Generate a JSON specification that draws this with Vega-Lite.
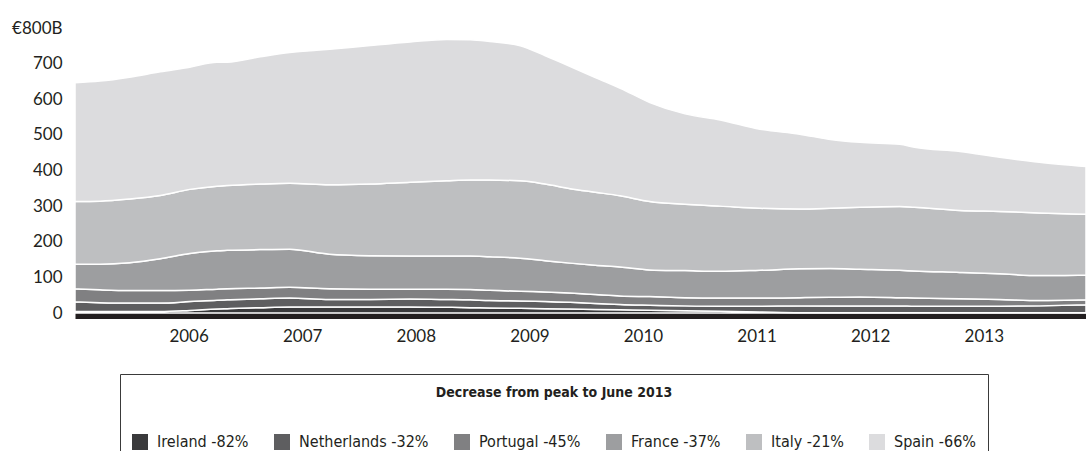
{
  "$schema": "https://vega.github.io/schema/vega-lite/v6.json",
  "width": 1011,
  "height": 285,
  "autosize": {"type": "none"},
  "padding": {"left": 75, "top": 28, "right": 0, "bottom": 138},
  "background": "white",
  "datasets": {
    "countries": [
      {"country": "Ireland", "rank": 1, "label": "Ireland -82%"},
      {"country": "Netherlands", "rank": 2, "label": "Netherlands -32%"},
      {"country": "Portugal", "rank": 3, "label": "Portugal -45%"},
      {"country": "France", "rank": 4, "label": "France -37%"},
      {"country": "Italy", "rank": 5, "label": "Italy -21%"},
      {"country": "Spain", "rank": 6, "label": "Spain -66%"}
    ]
  },
  "data": {
    "values": [
      {"t": 2005.00, "Ireland": 4, "Netherlands": 27, "Portugal": 37, "France": 69, "Italy": 176, "Spain": 333},
      {"t": 2005.22, "Ireland": 4, "Netherlands": 25, "Portugal": 36, "France": 72, "Italy": 177, "Spain": 337},
      {"t": 2005.48, "Ireland": 4, "Netherlands": 24, "Portugal": 35, "France": 78, "Italy": 179, "Spain": 342},
      {"t": 2005.75, "Ireland": 4, "Netherlands": 24, "Portugal": 35, "France": 89, "Italy": 178, "Spain": 347},
      {"t": 2006.01, "Ireland": 7, "Netherlands": 25, "Portugal": 32, "France": 103, "Italy": 180, "Spain": 343},
      {"t": 2006.25, "Ireland": 11, "Netherlands": 25, "Portugal": 31, "France": 108, "Italy": 181, "Spain": 348},
      {"t": 2006.34, "Ireland": 12, "Netherlands": 25, "Portugal": 31, "France": 108, "Italy": 182, "Spain": 346},
      {"t": 2006.63, "Ireland": 15, "Netherlands": 25, "Portugal": 30, "France": 108, "Italy": 184, "Spain": 357},
      {"t": 2006.89, "Ireland": 17, "Netherlands": 25, "Portugal": 30, "France": 107, "Italy": 185, "Spain": 367},
      {"t": 2007.24, "Ireland": 17, "Netherlands": 21, "Portugal": 30, "France": 97, "Italy": 195, "Spain": 380},
      {"t": 2007.60, "Ireland": 17, "Netherlands": 21, "Portugal": 29, "France": 94, "Italy": 201, "Spain": 389},
      {"t": 2007.95, "Ireland": 17, "Netherlands": 22, "Portugal": 28, "France": 93, "Italy": 207, "Spain": 394},
      {"t": 2008.27, "Ireland": 16, "Netherlands": 22, "Portugal": 29, "France": 93, "Italy": 211, "Spain": 397},
      {"t": 2008.48, "Ireland": 15, "Netherlands": 22, "Portugal": 29, "France": 94, "Italy": 213, "Spain": 394},
      {"t": 2008.65, "Ireland": 14, "Netherlands": 21, "Portugal": 29, "France": 94, "Italy": 215, "Spain": 389},
      {"t": 2008.92, "Ireland": 13, "Netherlands": 21, "Portugal": 27, "France": 93, "Italy": 217, "Spain": 379},
      {"t": 2009.14, "Ireland": 12, "Netherlands": 20, "Portugal": 27, "France": 88, "Italy": 215, "Spain": 360},
      {"t": 2009.36, "Ireland": 11, "Netherlands": 19, "Portugal": 26, "France": 84, "Italy": 209, "Spain": 343},
      {"t": 2009.58, "Ireland": 10, "Netherlands": 17, "Portugal": 25, "France": 82, "Italy": 205, "Spain": 322},
      {"t": 2009.80, "Ireland": 9, "Netherlands": 15, "Portugal": 24, "France": 81, "Italy": 200, "Spain": 302},
      {"t": 2010.06, "Ireland": 8, "Netherlands": 14, "Portugal": 24, "France": 75, "Italy": 192, "Spain": 278},
      {"t": 2010.37, "Ireland": 6, "Netherlands": 14, "Portugal": 23, "France": 76, "Italy": 186, "Spain": 254},
      {"t": 2010.68, "Ireland": 5, "Netherlands": 14, "Portugal": 23, "France": 75, "Italy": 183, "Spain": 242},
      {"t": 2011.03, "Ireland": 3, "Netherlands": 16, "Portugal": 23, "France": 78, "Italy": 174, "Spain": 222},
      {"t": 2011.38, "Ireland": 1, "Netherlands": 19, "Portugal": 23, "France": 81, "Italy": 168, "Spain": 210},
      {"t": 2011.65, "Ireland": 1, "Netherlands": 19, "Portugal": 24, "France": 81, "Italy": 169, "Spain": 193},
      {"t": 2011.91, "Ireland": 1, "Netherlands": 19, "Portugal": 25, "France": 78, "Italy": 174, "Spain": 182},
      {"t": 2012.26, "Ireland": 1, "Netherlands": 19, "Portugal": 23, "France": 77, "Italy": 179, "Spain": 175},
      {"t": 2012.39, "Ireland": 1, "Netherlands": 18, "Portugal": 23, "France": 76, "Italy": 179, "Spain": 168},
      {"t": 2012.79, "Ireland": 1, "Netherlands": 18, "Portugal": 21, "France": 74, "Italy": 174, "Spain": 165},
      {"t": 2013.14, "Ireland": 1, "Netherlands": 18, "Portugal": 19, "France": 72, "Italy": 175, "Spain": 152},
      {"t": 2013.49, "Ireland": 1, "Netherlands": 19, "Portugal": 15, "France": 70, "Italy": 176, "Spain": 142},
      {"t": 2013.90, "Ireland": 1, "Netherlands": 22, "Portugal": 14, "France": 70, "Italy": 170, "Spain": 134}
    ]
  },
  "transform": [
    {"fold": ["Ireland", "Netherlands", "Portugal", "France", "Italy", "Spain"], "as": ["country", "value"]},
    {"lookup": "country", "from": {"data": {"name": "countries"}, "key": "country", "fields": ["rank", "label"]}}
  ],
  "mark": {"type": "area", "interpolate": "monotone", "stroke": "white", "strokeWidth": 1.5},
  "encoding": {
    "x": {
      "field": "t",
      "type": "quantitative",
      "scale": {"domain": [2005, 2013.9], "nice": false, "zero": false},
      "axis": {
        "title": null,
        "values": [2006, 2007, 2008, 2009, 2010, 2011, 2012, 2013],
        "format": "d",
        "grid": false,
        "ticks": false,
        "domainColor": "#231f20",
        "domainWidth": 6,
        "offset": 2.5,
        "labelPadding": 13,
        "labelFont": "Lato",
        "labelFontSize": 17,
        "labelColor": "#231f20"
      }
    },
    "y": {
      "field": "value",
      "type": "quantitative",
      "stack": "zero",
      "scale": {"domain": [0, 800], "nice": false},
      "axis": {
        "title": null,
        "values": [0, 100, 200, 300, 400, 500, 600, 700, 800],
        "labelExpr": "datum.value == 800 ? '€800B' : datum.label",
        "grid": false,
        "ticks": false,
        "domain": false,
        "labelPadding": 13,
        "labelFont": "Lato",
        "labelFontSize": 17,
        "labelColor": "#231f20"
      }
    },
    "order": {"field": "rank", "type": "quantitative"},
    "color": {
      "field": "label",
      "type": "nominal",
      "scale": {
        "domain": ["Ireland -82%", "Netherlands -32%", "Portugal -45%", "France -37%", "Italy -21%", "Spain -66%"],
        "range": ["#3a3a3c", "#5e5e60", "#808082", "#9d9ea0", "#bebfc1", "#dcdcde"]
      },
      "legend": {
        "title": "Decrease from peak to June 2013",
        "orient": "none",
        "direction": "horizontal",
        "legendX": 45,
        "legendY": 346,
        "padding": 12,
        "strokeColor": "#3a3a3a",
        "titleAnchor": "middle",
        "titleFont": "DejaVu Sans Condensed",
        "titleFontSize": 14,
        "titleFontWeight": "bold",
        "titleColor": "#231f20",
        "titleLimit": 0,
        "titlePadding": 34,
        "labelFont": "DejaVu Sans Condensed",
        "labelFontSize": 16,
        "labelColor": "#231f20",
        "labelOffset": 9,
        "labelLimit": 0,
        "columnPadding": 25,
        "symbolType": "square",
        "symbolSize": 256,
        "symbolStrokeWidth": 0,
        "symbolOpacity": 1
      }
    }
  },
  "config": {
    "view": {"stroke": null}
  }
}
